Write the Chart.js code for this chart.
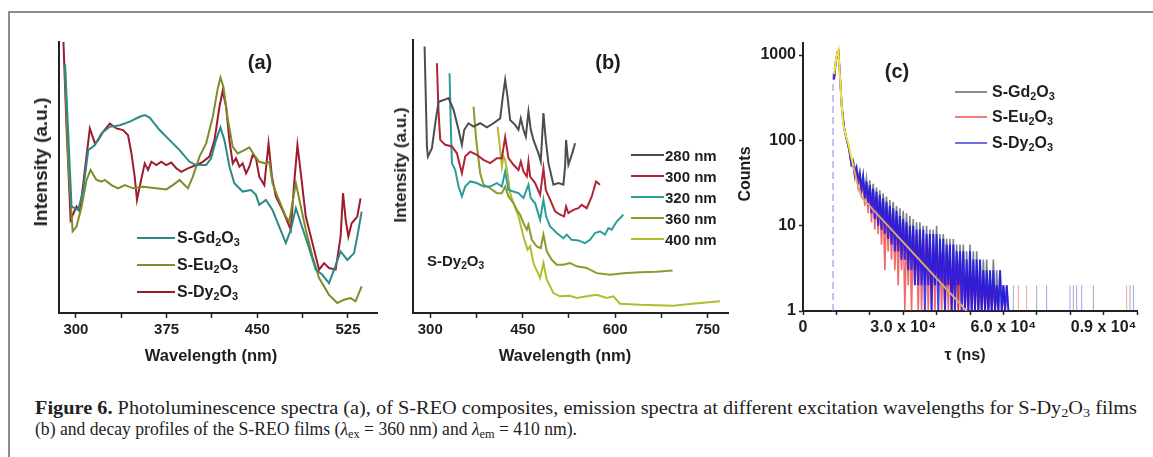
<!DOCTYPE html>
<html>
<head>
<meta charset="utf-8">
<script src="https://cdn.jsdelivr.net/npm/chart.js@4.4.1/dist/chart.umd.min.js"></script>
<style>
  html, body { margin: 0; padding: 0; background: #fff; }
  body { width: 1153px; height: 457px; position: relative; overflow: hidden; font-family: 'Liberation Sans', Arial, sans-serif; color: #1e1e1e; }
  canvas { position: absolute; }
  .frame { position: absolute; left: 8px; top: 11px; width: 1300px; height: 600px; border-left: 2px solid #8c8c8c; border-top: 2px solid #8c8c8c; }
  .lbl { position: absolute; font-weight: bold; white-space: nowrap; transform: translate(-50%, -50%); }
  .vt { position: absolute; font-weight: bold; white-space: nowrap; transform: translate(-50%, -50%) rotate(-90deg); }
  .leg { position: absolute; font-weight: bold; white-space: nowrap; transform: translateY(-50%); line-height: 1; }
  .legline { position: absolute; }
  sub { font-size: 0.68em; vertical-align: -0.3em; line-height: 0; }
  .caption { position: absolute; left: 35px; top: 398px; font-family: 'Liberation Serif', 'DejaVu Serif', serif; font-size: 18.5px; line-height: 21px; color: #222; }
  .cl { white-space: nowrap; width: max-content; transform-origin: 0 0; }
  .cl sub { font-size: 0.7em; vertical-align: -0.25em; }
</style>
</head>
<body>
<div class="frame"></div>
<canvas id="chartA" width="350" height="340" style="left:40px;top:30px"></canvas>
<canvas id="chartB" width="345" height="340" style="left:395px;top:30px"></canvas>
<canvas id="chartC" width="408" height="340" style="left:740px;top:30px"></canvas>
<div class="caption">
  <div class="cl" id="cap1"><b>Figure 6.</b> Photoluminescence spectra (a), of S-REO composites, emission spectra at different excitation wavelengths for S-Dy<sub>2</sub>O<sub>3</sub> films</div>
  <div class="cl" id="cap2">(b) and decay profiles of the S-REO films (<i>λ</i><sub>ex</sub> = 360 nm) and <i>λ</i><sub>em</sub> = 410 nm).</div>
</div>
<script>
// ---- panel (a): photoluminescence spectra ----
const aNames = ['S-Gd2O3', 'S-Eu2O3', 'S-Dy2O3'];
const aMajor = [300, 375, 450, 525];
const aMinor = [337.5, 412.5, 487.5];

const gdWl = [291, 296.4, 301.9, 306, 310.2, 315.7, 321.2, 328, 336.3, 344.5, 352.7, 356.9, 361, 369.2, 377.5, 385.7, 394, 399.5, 407.7, 411.8, 415.9, 419.5, 422.8, 427, 431, 437.9, 444.8, 448.9, 451.6, 457.1, 462.6, 468.1, 473.6, 477.7, 481.9, 486, 491.5, 498.4, 503.8, 509.3, 513.5, 518.9, 524.5, 530, 532.7, 536.3];
const gdInt = [92, 39.3, 38, 45.4, 60.1, 62, 66.3, 68.7, 69.3, 70.6, 72.4, 73, 72.1, 67.5, 63.8, 60.1, 55.8, 54.6, 54.6, 57.1, 63.8, 68.5, 63.8, 54, 47.9, 44.8, 45.4, 43.6, 39.9, 41.7, 38, 31.9, 25.8, 30.7, 38.7, 33.1, 25.8, 16, 14.1, 11, 16, 22.7, 19.6, 22.1, 28.2, 37.4];

const euWl = [290.9, 293.7, 297.3, 300.5, 304.7, 308.8, 312.1, 317, 321.2, 323.9, 329.4, 334.9, 340.4, 347.3, 355.5, 366.5, 374.7, 380.2, 385.7, 392.6, 396.7, 402.2, 407.7, 413.2, 417.3, 419.5, 422, 425.5, 429.7, 433.8, 439.3, 443.4, 447.5, 451.6, 457.1, 459.9, 462.6, 466.8, 473.6, 476.4, 481.9, 486, 490.1, 495.6, 501.1, 509.3, 516.2, 521.7, 527.2, 531.3, 536.3];
const euInt = [90.8, 55.2, 30.1, 31.9, 39.3, 49.1, 52.8, 49.1, 48.5, 49.1, 47.2, 46, 47.2, 46, 46.6, 46, 45.6, 47.2, 49.1, 46, 50.3, 57.7, 62.6, 72.4, 82.8, 86.9, 83.4, 71.8, 61.3, 58.9, 60.1, 61.1, 58.3, 55.8, 55.2, 55.8, 47.9, 42.9, 35.6, 33.7, 47.9, 39.3, 30.7, 20.9, 12.9, 6.7, 3.7, 4.9, 5.5, 4.3, 9.8];

const dyWl = [289.6, 292.3, 295.6, 300.5, 303.3, 307.4, 311.5, 315.7, 318.4, 322.5, 328, 333.5, 339, 343.1, 345.9, 348.6, 350.5, 352.7, 356.9, 359.6, 362.4, 366.5, 370.6, 374.7, 378.8, 383, 387.1, 392.6, 399.5, 404.9, 410.4, 414.6, 418.7, 421.4, 424.2, 426.9, 429.7, 432.4, 435.2, 437.9, 440.7, 443.4, 446.2, 448.9, 451.6, 455.8, 459.3, 462.1, 465.4, 470.9, 477.7, 480.5, 483.2, 486, 490.1, 495.6, 501.1, 505.2, 509.3, 514.8, 518.9, 520.9, 523.1, 525.3, 528, 532.7, 535.4];
const dyInt = [101, 67.5, 34.4, 39.3, 37.4, 52.8, 68.1, 62.6, 63.8, 66.9, 69.9, 68.1, 67.5, 65.6, 58.9, 50.3, 41.7, 46.6, 55.2, 52.8, 55.8, 54.6, 55.8, 54.6, 55.5, 53.4, 52.1, 53.4, 54.6, 55.8, 57.7, 63.8, 76.1, 82, 76.1, 63.8, 55.2, 57.1, 54, 55.2, 51.5, 54, 58.3, 57.1, 50.3, 47.2, 62.6, 50.3, 42.9, 38, 30.7, 47.9, 62, 51.5, 35.6, 25.8, 16, 18.4, 16.6, 16, 28.2, 44.2, 34.4, 28.2, 33.1, 35.6, 42.3];

// ---- panel (b): emission spectra of S-Dy2O3 at several excitation wavelengths ----
const bNames = ['280 nm', '300 nm', '320 nm', '360 nm', '400 nm'];
const bMajor = [300, 450, 600, 750];
const bMinor = [375, 525, 675];

const wl280 = [290.8, 294.6, 296.2, 302.7, 308.1, 313.5, 321.6, 329.7, 337.8, 345.9, 351.3, 355.1, 362.1, 370.2, 381, 391.8, 402.6, 413.4, 417.7, 421.5, 425.3, 429.6, 437.7, 443.1, 446.9, 451.2, 455, 459.3, 463.1, 467.4, 475.5, 479.3, 483.6, 487.4, 491.7, 499.8, 507.9, 516, 518.7, 520.3, 524.1, 529.5, 534.9];
const int280 = [97.6, 61, 57.3, 60.4, 69.5, 77.4, 78, 78.7, 74.4, 67.1, 61.6, 67.1, 69.5, 68.3, 69.5, 68, 69.5, 71.3, 79.3, 85.4, 79.3, 70.7, 68.9, 67.1, 71.3, 67.1, 64.6, 73.8, 67.1, 63.4, 58.5, 55.5, 73.2, 63.4, 54.9, 47, 47.6, 47, 53.7, 63.4, 54.3, 57.9, 62.2];

const wl300 = [310.8, 313.5, 316.2, 324.3, 335.1, 343.2, 351.3, 356.7, 364.8, 375.6, 386.4, 397.2, 408, 416.1, 421.5, 426.9, 435, 443.1, 446.9, 451.2, 456.6, 459.3, 462, 470.1, 478.2, 483.6, 487.4, 494.4, 502.5, 510.6, 517.1, 520.3, 524.1, 532.2, 540.3, 545.7, 553.8, 562, 569, 575.4];
const int300 = [91.5, 73.2, 63.4, 61.6, 61, 58.5, 51.2, 57.3, 59.1, 57.9, 56.1, 54.9, 56.7, 56.7, 64.4, 56.7, 54.3, 52.4, 55.5, 51.8, 50, 55.5, 50, 47.6, 43.3, 53, 45.1, 41.5, 37.2, 36, 35.4, 39, 36.6, 37.8, 38.4, 39.6, 38.4, 42.7, 48.2, 47];

const wl320 = [331.3, 333.5, 335.1, 340.5, 345.9, 351.3, 356.7, 364.8, 375.6, 386.4, 397.2, 408, 416.1, 421.5, 426.9, 435, 443.1, 451.2, 459.3, 463.1, 470.1, 478.2, 483.6, 487.9, 494.4, 505.2, 516, 521.4, 529.5, 540.3, 551.1, 559.2, 567.3, 575.4, 583.5, 588.9, 594.3, 602.4, 613.2];
const int320 = [87.8, 67.1, 54.9, 52.4, 46.3, 42.7, 46.3, 48.2, 47.6, 46.3, 46.3, 47.6, 46.3, 51.8, 45.1, 44.5, 43.9, 42.1, 47, 42.1, 40.2, 34.1, 41.5, 35.4, 31.7, 29.3, 27.4, 28.7, 26.8, 26.6, 25.6, 26.8, 29.3, 29.9, 28.7, 31.1, 30.5, 33.5, 36];

const wl360 = [370.2, 374.5, 381, 386.4, 397.2, 408, 416.1, 421.5, 426.9, 435, 440.4, 445.8, 451.2, 456.6, 459.3, 464.7, 472.8, 479.3, 483.6, 489, 497.1, 505.2, 516, 526.8, 537.6, 553.8, 570, 591.6, 613.2, 640.2, 667.2, 693.1];
const int360 = [75.6, 63.4, 51.2, 47, 45.7, 43.9, 43.9, 46.3, 42.7, 40.2, 37.8, 36, 32.9, 30.5, 32.3, 26.8, 24.4, 23.8, 28.7, 22.6, 19.5, 17.7, 17.7, 18.3, 17.1, 16.5, 14.6, 14, 14.6, 14.9, 15.1, 15.6];

const wl400 = [409.1, 413.4, 416.1, 418.8, 421.5, 425.3, 429.6, 435, 443.1, 451.2, 457.7, 462, 467.4, 478.2, 483.6, 489, 499.8, 510.6, 526.8, 537.6, 553.8, 570, 586.2, 597, 607.8, 640.2, 694.2, 721.2, 769.8];
const int400 = [68.3, 59.8, 53.7, 57.3, 56.1, 51.2, 43.9, 40.2, 35.4, 28, 23.2, 24.4, 18.3, 12.8, 18.3, 12.2, 7.3, 6.1, 6.3, 5.5, 6.1, 6.7, 5.5, 6.1, 3.4, 3, 2.7, 3.3, 4.3];

// ---- panel (c): decay profiles ----
const cTicks = [0, 10000, 20000, 30000, 40000, 50000, 60000, 70000, 80000, 90000, 100000];
const cLabelAt = [0, 30000, 60000, 90000];
const cLabelText = ['0', '3.0 x 10\u2074', '6.0 x 10\u2074', '0.9 x 10\u2074'];
const cYTicks = [1, 10, 100, 1000];

const riseTau = [9300, 9800, 10300, 10600, 11000, 11600, 12300, 13000, 13600];
const riseCounts = [520, 820, 1080, 1120, 640, 250, 140, 105, 85];

const tauNoise = [14000, 14500, 15000, 15500, 16000, 16500, 17000, 17500, 18000, 18500, 19000, 19500, 20000, 20500, 21000, 21500, 22000, 22500, 23000, 23500, 24000, 24500, 25000, 25500, 26000, 26500, 27000, 27500, 28000, 28500, 29000, 29500, 30000, 30500, 31000, 31500, 32000, 32500, 33000, 33500, 34000, 34500, 35000, 35500, 36000, 36500, 37000, 37500, 38000, 38500, 39000, 39500, 40000, 40500, 41000, 41500, 42000, 42500, 43000, 43500, 44000, 44500, 45000, 45500, 46000, 46500, 47000, 47500, 48000, 48500, 49000, 49500, 50000, 50500, 51000, 51500, 52000, 52500, 53000, 53500, 54000, 54500, 55000, 55500, 56000, 56500, 57000, 57500, 58000, 58500, 59000, 59500, 60000, 60500, 61000, 61500];
const gdCounts = [75, 58, 60, 45, 50, 36, 44, 30, 40, 25, 36, 21, 34, 18, 31, 15, 28, 13, 26, 12, 24, 10, 22, 9, 20, 8, 19, 7, 17, 6, 16, 6, 15, 5, 14, 4, 13, 4, 12, 3, 11, 3, 11, 3, 10, 2, 10, 3, 9, 2, 9, 2, 10, 2, 8, 2, 8, 2, 7, 2, 7, 1, 7, 2, 6, 1, 6, 2, 6, 1, 5, 1, 6, 1, 5, 1, 5, 1, 4, 1, 4, 1, 4, 1, 3, 1, 4, 1, 3, 1, 3, 1, 2, 1, 2, 1];
const euCounts = [68, 50, 52, 36, 44, 28, 37, 22, 33, 17, 30, 14, 27, 11, 24, 9, 22, 8, 20, 6, 18, 3, 17, 5, 15, 4, 14, 3, 13, 2, 12, 3, 11, 1, 10, 2, 9, 1, 9, 2, 8, 1, 8, 1, 7, 2, 7, 1, 6, 1, 6, 1, 6, 2, 5, 1, 5, 1, 5, 1, 4, 1, 4, 1, 4, 1, 4, 1, 3, 1, 3, 1, 4, 1, 3, 1, 3, 1, 2, 1, 3, 1, 2, 1, 2, 1, 2, 1, 2, 1, 1, 1, 2, 1, 1, 1];
const dyCounts = [70, 52, 55, 40, 47, 32, 40, 26, 37, 21, 33, 17, 30, 14, 27, 12, 25, 10, 23, 9, 21, 8, 19, 7, 17, 6, 16, 5, 15, 5, 13, 4, 12, 4, 11, 3, 10, 3, 10, 2, 9, 2, 9, 2, 9, 1, 8, 2, 8, 1, 8, 2, 8, 1, 7, 2, 7, 1, 6, 2, 6, 1, 6, 1, 5, 2, 5, 1, 5, 1, 4, 1, 5, 1, 4, 1, 4, 1, 4, 1, 3, 1, 3, 1, 3, 1, 3, 1, 2, 1, 3, 1, 2, 1, 2, 1];

const gdSpikeTau = [62970, 69950, 80940, 86930, 97910];
const gdSpikeTop = [2, 2, 2, 2, 2];
const euSpikeTau = [64500, 66960, 96910];
const euSpikeTop = [2, 2, 2];
const dySpikeTau = [72950, 79940, 81930, 83430, 98910];
const dySpikeTop = [2, 2, 2, 2, 2];

const irfTau = 9000;
const irfTop = 700;
const fitTau = [9300, 10000, 10570, 11000, 11500, 12000, 12800, 13570, 14300, 15060, 16300, 17570, 49000];
const fitCounts = [600, 950, 1150, 620, 290, 157, 115, 92, 68, 50, 31, 21.5, 1];

Chart.defaults.font.family = "'Liberation Sans', Arial, sans-serif";
Chart.defaults.font.weight = 'bold';
Chart.defaults.color = '#1e1e1e';

function pts(xs, ys) {
    return xs.map((x, i) => ({ x: x, y: ys[i] }));
}

function chem(name) {
    return name.replace(/([A-Za-z])(\d)/g, '$1<sub>$2</sub>');
}

function lineSet(data, color, width, extra) {
    return Object.assign({
        data: data,
        borderColor: color,
        borderWidth: width,
        pointRadius: 0,
        tension: 0,
        fill: false
    }, extra || {});
}

function wlAxis(min, max, majors, minors) {
    return {
        type: 'linear',
        min: min,
        max: max,
        afterBuildTicks: s => {
            s.ticks = majors.concat(minors).sort((p, q) => p - q).map(v => ({ value: v }));
        },
        ticks: {
            autoSkip: false,
            maxRotation: 0,
            padding: 3,
            font: { size: 15, weight: 'bold' },
            callback: v => majors.includes(v) ? String(v) : ''
        },
        grid: { drawOnChartArea: false, drawTicks: true, tickLength: 5, tickColor: '#222', tickWidth: 1.5 },
        border: { color: '#222', width: 2 }
    };
}

const intensityAxis = {
    type: 'linear',
    min: 0,
    max: 100,
    ticks: { display: false },
    grid: { drawOnChartArea: false, drawTicks: false },
    border: { color: '#222', width: 2 }
};

function makeChart(id, datasets, xAxis, yAxis, pad, yWidth, xHeight) {
    xAxis.afterFit = s => { s.height = xHeight; };
    yAxis.afterFit = s => { s.width = yWidth; };
    return new Chart(document.getElementById(id), {
        type: 'line',
        data: { datasets: datasets },
        options: {
            responsive: false,
            animation: false,
            devicePixelRatio: 1,
            layout: { padding: pad },
            plugins: { legend: { display: false }, tooltip: { enabled: false } },
            scales: { x: xAxis, y: yAxis }
        }
    });
}

// panel (a)
const aColors = ['#2b8a88', '#7f8c2a', '#9e1b2c'];
makeChart('chartA', [
    lineSet(pts(gdWl, gdInt), aColors[0], 2),
    lineSet(pts(euWl, euInt), aColors[1], 2),
    lineSet(pts(dyWl, dyInt), aColors[2], 2)
], wlAxis(286, 549, aMajor, aMinor), Object.assign({}, intensityAxis),
    { top: 12, right: 13, left: 0, bottom: 0 }, 19, 57);

// panel (b)
const bColors = ['#4d4d4d', '#b02535', '#2a9d9a', '#8d9a2c', '#b4bb2e'];
makeChart('chartB', [
    lineSet(pts(wl280, int280), bColors[0], 2),
    lineSet(pts(wl300, int300), bColors[1], 2),
    lineSet(pts(wl320, int320), bColors[2], 2),
    lineSet(pts(wl360, int360), bColors[3], 2),
    lineSet(pts(wl400, int400), bColors[4], 2)
], wlAxis(272, 783, bMajor, bMinor), Object.assign({}, intensityAxis),
    { top: 10, right: 12, left: 0, bottom: 0 }, 18, 57);

// panel (c)
function decaySeries(counts, spikeTau, spikeTop) {
    const data = pts(riseTau, riseCounts).concat(pts(tauNoise, counts));
    data.push({ x: tauNoise[tauNoise.length - 1] + 100, y: null });
    spikeTau.forEach((t, i) => {
        data.push({ x: t, y: 1 }, { x: t, y: spikeTop[i] }, { x: t, y: null });
    });
    return data;
}

// thick, strong strokes inside the dense band; thin, pale ones for the stray counts after it
function noiseSet(data, rgb, alpha, width, order) {
    const bandEnd = tauNoise[tauNoise.length - 1];
    return lineSet(data, `rgba(${rgb},${alpha})`, width, {
        order: order,
        segment: {
            borderWidth: c => c.p0.parsed.x > bandEnd ? 1 : width,
            borderColor: c => c.p0.parsed.x > bandEnd ? `rgba(${rgb},0.4)` : `rgba(${rgb},${alpha})`
        }
    });
}

makeChart('chartC', [
    lineSet(pts(fitTau, fitCounts), '#e8e040', 2, {
        order: 0,
        segment: { borderColor: c => c.p0.parsed.x < 15000 ? '#ece63c' : '#d9a86c' }
    }),
    noiseSet(decaySeries(dyCounts, dySpikeTau, dySpikeTop), '18,18,245', 0.8, 2, 1),
    noiseSet(decaySeries(euCounts, euSpikeTau, euSpikeTop), '235,25,25', 0.65, 1.6, 2),
    noiseSet(decaySeries(gdCounts, gdSpikeTau, gdSpikeTop), '40,40,70', 0.6, 1.6, 3),
    lineSet([{ x: irfTau, y: 1 }, { x: irfTau, y: irfTop }], 'rgba(150,140,225,0.9)', 1.2, { order: 4, borderDash: [7, 4] })
], {
    type: 'linear',
    min: 0,
    max: 100000,
    afterBuildTicks: s => { s.ticks = cTicks.map(v => ({ value: v })); },
    ticks: {
        autoSkip: false,
        maxRotation: 0,
        padding: 3,
        font: { size: 16, weight: 'bold' },
        callback: v => {
            const i = cLabelAt.indexOf(v);
            return i >= 0 ? cLabelText[i] : '';
        }
    },
    grid: { drawOnChartArea: false, tickLength: 4, tickColor: '#222', tickWidth: 1.5 },
    border: { color: '#222', width: 2 }
}, {
    type: 'logarithmic',
    min: 1,
    max: 1400,
    afterBuildTicks: s => { s.ticks = cYTicks.map(v => ({ value: v })); },
    ticks: { autoSkip: false, padding: 3, font: { size: 16, weight: 'bold' }, callback: v => String(v) },
    grid: { drawOnChartArea: false, tickLength: 4, tickColor: '#222', tickWidth: 1.5 },
    border: { color: '#222', width: 2 }
}, { top: 8, right: 11, left: 0, bottom: 0 }, 63, 59);

// ---- text overlays ----
function addText(cls, html, x, y, size) {
    const d = document.createElement('div');
    d.className = cls;
    d.style.left = x + 'px';
    d.style.top = y + 'px';
    d.style.fontSize = size + 'px';
    d.innerHTML = html;
    document.body.appendChild(d);
}

function legend(names, colors, lineX, lineW, lineH, textX, rowY, size) {
    names.forEach((n, i) => {
        const ln = document.createElement('div');
        ln.className = 'legline';
        ln.style.cssText = `left:${lineX}px;top:${rowY[i] - lineH / 2}px;width:${lineW}px;height:${lineH}px;background:${colors[i]}`;
        document.body.appendChild(ln);
        addText('leg', chem(n), textX, rowY[i], size);
    });
}

addText('lbl', '(a)', 260, 62, 20);
addText('lbl', '(b)', 608, 62, 20);
addText('lbl', '(c)', 897, 71, 20);
addText('vt', 'Intensity (a.u.)', 41, 162, 19);
addText('vt', 'Intensity (a.u.)', 401, 165, 17);
addText('vt', 'Counts', 745, 174, 16);
addText('lbl', 'Wavelength (nm)', 211, 355, 16.5);
addText('lbl', 'Wavelength (nm)', 565, 355, 16.5);
addText('lbl', '\u03c4 (ns)', 965, 355, 16);
addText('leg', chem('S-Dy2O3'), 427, 260, 15);

legend(aNames, aColors, 137, 38, 2.5, 177, [238, 265, 292], 16);
legend(bNames, bColors, 631, 33, 2.5, 665, [155, 176, 197, 218, 239], 15);
legend(aNames, ['#8a8a8a', '#f07a7a', '#6f6fe8'], 955, 32, 1.5, 992, [92, 117, 143], 16);

// squeeze each caption line to its printed width
const cap1 = document.getElementById('cap1');
const cap2 = document.getElementById('cap2');
cap1.style.transform = `scaleX(${1102 / cap1.getBoundingClientRect().width})`;
cap2.style.transform = `scaleX(${542 / cap2.getBoundingClientRect().width})`;
</script>
</body>
</html>
